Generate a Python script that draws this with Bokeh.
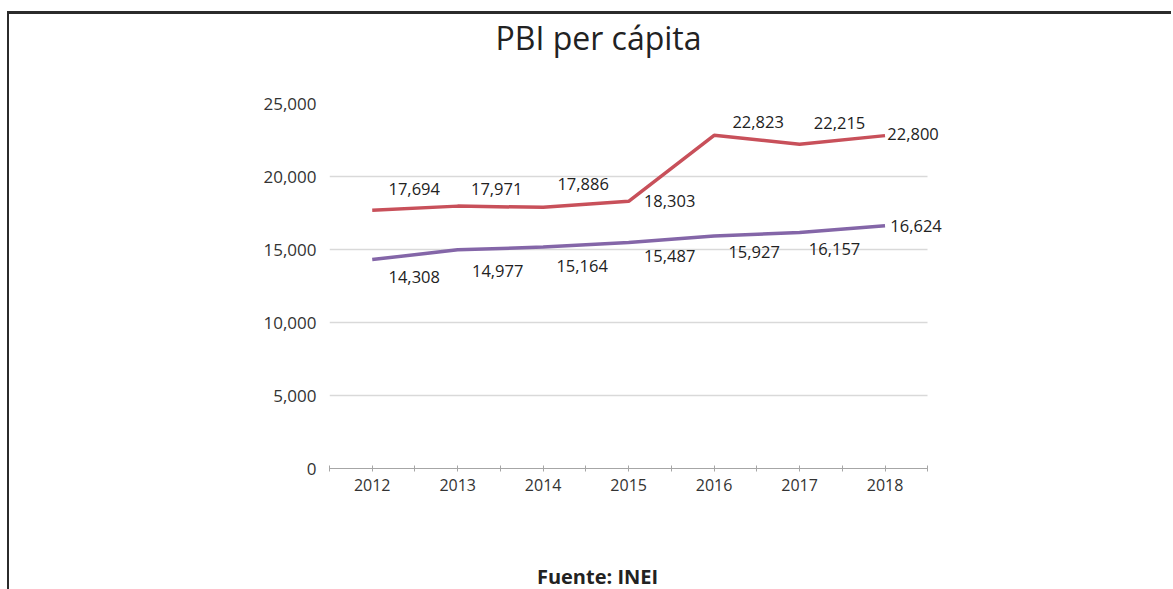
from bokeh.plotting import figure
from bokeh.models import (ColumnDataSource, LabelSet, Label, FixedTicker, Grid,
                          Range1d, NumeralTickFormatter)
from bokeh.core.properties import value
from bokeh.embed import file_html
from bokeh.resources import INLINE

# ---- data ----
years = [2012, 2013, 2014, 2015, 2016, 2017, 2018]
serie_roja = [17694, 17971, 17886, 18303, 22823, 22215, 22800]
serie_morada = [14308, 14977, 15164, 15487, 15927, 16157, 16624]
y_ticks = [0, 5000, 10000, 15000, 20000, 25000]
title_text = "PBI per cápita"
source_text = "Fuente: INEI"

# label placement (screen pixels, dx right, dy up)
roja_dx = [42, 39, 40, 41, 44, 40, 28]
roja_dy = [21, 17, 23, 0, 13, 21, 2]
morada_dx = [42, 40, 39, 41, 40, 35, 31]
morada_dy = [-17, -21, -19, -14, -16, -16, 0]

FONT = "Open Sans"
RED = "#c8505a"
PURPLE = "#8466a8"

x_lo, x_hi = years[0] - 0.5, years[-1] + 0.5

p = figure(width=1164, height=578, output_backend="svg", toolbar_location=None,
           x_range=Range1d(x_lo, x_hi + 0.5),
           y_range=Range1d(y_ticks[0], y_ticks[-1]),
           min_border_left=320, min_border_right=203,
           min_border_top=89, min_border_bottom=124)
p.outline_line_color = None
p.background_fill_color = "white"
p.border_fill_color = "white"
p.styles = {"margin-left": "7px", "margin-top": "11px",
            "border-left": "2px solid #2b2b2b", "border-top": "3px solid #2b2b2b"}

# lines
p.line(years, serie_roja, line_color=RED, line_width=3.5)
p.line(years, serie_morada, line_color=PURPLE, line_width=3.5)

# axes
xt = FixedTicker(ticks=years, minor_ticks=[y - 0.5 for y in years] + [x_hi])
p.xaxis.ticker = xt
p.xaxis.bounds = (x_lo, x_hi)
p.xaxis.axis_line_color = "#a6a6a6"
p.xaxis.major_tick_line_color = "#a6a6a6"
p.xaxis.minor_tick_line_color = "#a6a6a6"
p.xaxis.major_tick_in = 3
p.xaxis.major_tick_out = 3
p.xaxis.minor_tick_in = 3
p.xaxis.minor_tick_out = 3
p.xaxis.major_label_standoff = 7
p.xaxis.major_label_text_font = FONT
p.xaxis.major_label_text_font_size = "16px"
p.xaxis.major_label_text_color = "#333333"

p.yaxis.ticker = FixedTicker(ticks=y_ticks, minor_ticks=[])
p.yaxis.formatter = NumeralTickFormatter(format="0,0")
p.yaxis.axis_line_color = None
p.yaxis.major_tick_line_color = None
p.yaxis.minor_tick_line_color = None
p.yaxis.major_tick_in = 0
p.yaxis.major_tick_out = 0
p.yaxis.major_label_standoff = 13
p.yaxis.major_label_text_font = FONT
p.yaxis.major_label_text_font_size = "17px"
p.yaxis.major_label_text_color = "#333333"

p.xgrid.grid_line_color = None
if "cross_bounds" in Grid.properties():
    p.ygrid.cross_bounds = (x_lo, x_hi)
    p.ygrid.grid_line_color = "#d9d9d9"
    p.ygrid.grid_line_width = 1.5
else:
    p.ygrid.grid_line_color = None
    p.segment(x0=[x_lo] * len(y_ticks), y0=y_ticks, x1=[x_hi] * len(y_ticks), y1=y_ticks,
              line_color="#d9d9d9", line_width=1.5, level="underlay")

# data labels
def fmt(v):
    return f"{v:,}"

src_r = ColumnDataSource(dict(x=years, y=serie_roja, t=[fmt(v) for v in serie_roja],
                              dx=roja_dx, dy=roja_dy))
src_m = ColumnDataSource(dict(x=years, y=serie_morada, t=[fmt(v) for v in serie_morada],
                              dx=morada_dx, dy=morada_dy))
for src in (src_r, src_m):
    p.add_layout(LabelSet(x="x", y="y", text="t", source=src, x_offset="dx", y_offset="dy",
                          text_align="center", text_baseline="middle",
                          text_font=value(FONT), text_font_size="16.5px",
                          text_color="#222222"))

# title and source (canvas pixel positions)
try:
    units = "canvas"
    Label(x=0, y=0, x_units=units, y_units=units, text="")
except Exception:
    units = "screen"

p.add_layout(Label(x=587, y=20, x_units=units, y_units=units, text=title_text,
                   text_align="center", text_baseline="alphabetic",
                   text_font=FONT, text_font_size="32px", text_color="#222222"), "above")
p.add_layout(Label(x=586, y=559, x_units=units, y_units=units, text=source_text,
                   text_align="center", text_baseline="alphabetic",
                   text_font=FONT, text_font_size="20px", text_font_style="bold",
                   text_color="#222222"), "below")

open("out.html", "w").write(file_html(p, INLINE))
